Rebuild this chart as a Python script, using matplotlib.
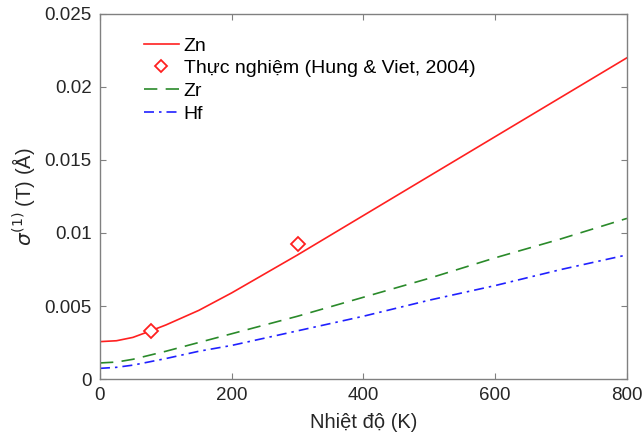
import matplotlib
matplotlib.use("Agg")
import matplotlib.pyplot as plt

T_zn = [0, 25, 50, 77, 100, 150, 200, 250, 300, 400, 500, 600, 700, 800]
sig_zn = [0.00256, 0.00262, 0.00285, 0.0033, 0.0037, 0.0047, 0.0059, 0.0072, 0.0085,
          0.0112, 0.0139, 0.0166, 0.0193, 0.0220]

T_zr = [0, 25, 50, 100, 150, 200, 300, 400, 500, 600, 700, 800]
sig_zr = [0.0011, 0.00116, 0.00135, 0.0019, 0.0025, 0.0031, 0.0043, 0.0056, 0.0069,
          0.0083, 0.0096, 0.0110]

T_hf = [0, 25, 50, 100, 150, 200, 300, 400, 500, 600, 700, 800]
sig_hf = [0.00073, 0.0008, 0.00095, 0.0014, 0.0019, 0.0023, 0.0033, 0.0043, 0.0054,
          0.0064, 0.0075, 0.0085]

T_exp = [77, 300]
sig_exp = [0.00331, 0.00923]

plt.rcParams['font.family'] = ['Liberation Sans', 'DejaVu Sans']
plt.rcParams['font.size'] = 13

fig = plt.figure(figsize=(6.43, 4.33), dpi=100)
ax = fig.add_axes([0.1555, 0.1247, 0.8195, 0.843])

ax.plot(T_zn, sig_zn, color='#ff2020', lw=1.2, label='Zn')
ax.plot(T_exp, sig_exp, ls='none', marker='D', ms=7.5, mfc='white', mec='#ff2020',
        mew=1.3, label='Thực nghiệm (Hung & Viet, 2004)')
ax.plot(T_zr, sig_zr, color='#2a8a2a', lw=1.2, ls=(0, (8, 5)), label='Zr')
ax.plot(T_hf, sig_hf, color='#2020ff', lw=1.2, ls=(0, (6, 3, 1.5, 3)), label='Hf')

ax.set_xlim(0, 800)
ax.set_ylim(0, 0.025)
ax.set_xticks([0, 200, 400, 600, 800])
ax.set_yticks([0, 0.005, 0.01, 0.015, 0.02, 0.025])
ax.set_yticklabels(['0', '0.005', '0.01', '0.015', '0.02', '0.025'])

for s in ax.spines.values():
    s.set_color('#808080')
    s.set_linewidth(1.0)
ax.tick_params(direction='in', top=True, right=True, length=4, color='#808080',
               labelcolor='#262626', labelsize=13.5, pad=6)

ax.set_xlabel('Nhiệt độ (K)', color='#262626', fontsize=14.5, labelpad=6)
ax.set_ylabel(r'$\sigma^{(1)}$ (T) (Å)', color='#262626', fontsize=14.5, labelpad=5)

leg = ax.legend(loc='upper left', bbox_to_anchor=(0.05, 0.985), frameon=False,
                handlelength=1.8, handletextpad=0.25, labelspacing=0.26, fontsize=14)
leg.legend_handles[1].set_markersize(6)

fig.savefig('out.png', dpi=100)
